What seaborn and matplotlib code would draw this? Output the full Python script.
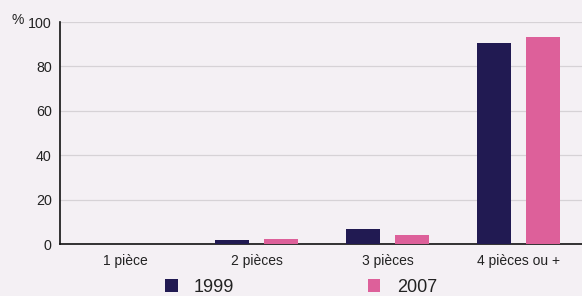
import matplotlib
matplotlib.use("Agg")
import matplotlib.pyplot as plt
import seaborn as sns
import pandas as pd

categories = ["1 pièce", "2 pièces", "3 pièces", "4 pièces ou +"]
values_1999 = [0.0, 1.9, 6.6, 90.4]
values_2007 = [0.0, 2.2, 4.0, 93.1]
years = ["1999", "2007"]
y_ticks = [0, 20, 40, 60, 80, 100]

df = pd.DataFrame({
    "cat": categories * 2,
    "val": values_1999 + values_2007,
    "year": [years[0]] * 4 + [years[1]] * 4,
})

sns.set_theme(style="white")
plt.rcParams["font.family"] = ["Liberation Sans", "DejaVu Sans"]
bg = "#f4f0f4"
fig = plt.figure(figsize=(5.82, 2.96), dpi=100, facecolor=bg)
ax = fig.add_axes([60 / 582, 1 - 244 / 296, 524 / 582, 222 / 296])
ax.set_facecolor(bg)

palette = {"1999": "#211a52", "2007": "#dd609a"}
sns.barplot(data=df, x="cat", y="val", hue="year", order=categories,
            hue_order=years, palette=palette, width=0.75, gap=0.3,
            saturation=1, linewidth=0, ax=ax, zorder=3)

ax.set_ylim(0, 100)
ax.set_xlim(-0.5, 3.5)
ax.set_yticks(y_ticks)
ax.tick_params(axis="y", length=0, pad=6, labelsize=10.3, labelcolor="#222222")
ax.tick_params(axis="x", length=0, pad=7, labelsize=10, labelcolor="#222222")
ax.grid(axis="y", color="#d6d2d6", linewidth=0.9, zorder=0)
ax.set_axisbelow(True)
ax.set_xlabel("")
ax.set_ylabel("")
for s in ["top", "right"]:
    ax.spines[s].set_visible(False)
for s in ["left", "bottom"]:
    ax.spines[s].set_color("#111111")
    ax.spines[s].set_linewidth(1.2)

handles, labels = ax.get_legend_handles_labels()
ax.legend_.remove()
fig.legend(handles, labels, ncol=2, loc="center",
           bbox_to_anchor=(0.517, 0.03), frameon=False, fontsize=13,
           handlelength=0.7, handleheight=0.7, handletextpad=0.9,
           columnspacing=7.4, labelcolor="#222222")

fig.text(12 / 582, 1 - 20 / 296, "%", fontsize=10, ha="left", va="center",
         color="#222222")

fig.savefig("out.png", dpi=100, facecolor=bg)
